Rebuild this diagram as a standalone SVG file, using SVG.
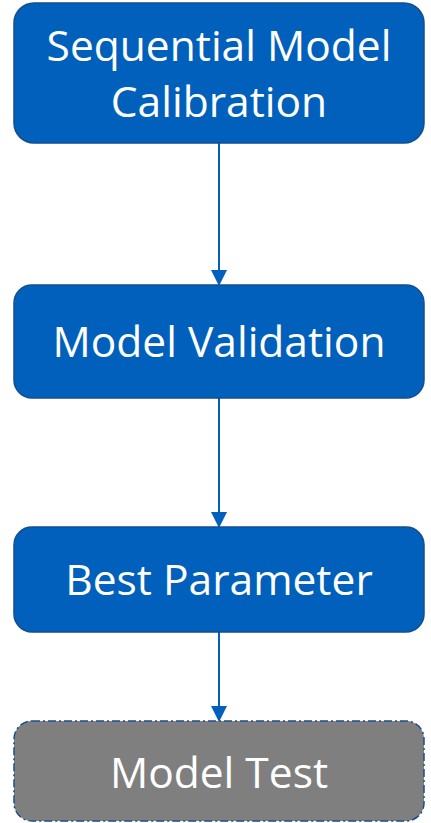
<svg xmlns="http://www.w3.org/2000/svg" width="431" height="823" viewBox="0 0 431 823">
<style>
.box{fill:#0060BB;stroke:#134E8F;stroke-width:1.5}
.test{fill:#7F7F7F;stroke:#1B4D8C;stroke-width:1.5;stroke-dasharray:8 3 2 3}
.lbl{font-family:"Open Sans","Noto Sans",sans-serif;font-size:42.5px;fill:#FFFFFF;text-anchor:middle}
.conn{stroke:#0060BB;stroke-width:2;fill:none}
</style>
<defs>
<marker id="ah" markerWidth="8" markerHeight="8" refX="7" refY="4" orient="auto" markerUnits="strokeWidth">
<path d="M0,0 L8,4 L0,8 z" fill="#0060BB"/>
</marker>
</defs>
<g id="connectors">
<line class="conn" x1="219" y1="143" x2="219" y2="284" marker-end="url(#ah)"/>
<line class="conn" x1="219" y1="398" x2="219" y2="526" marker-end="url(#ah)"/>
<line class="conn" x1="219" y1="632" x2="219" y2="720" marker-end="url(#ah)"/>
</g>
<g id="n1">
<rect class="box" x="14" y="3" width="410" height="140" rx="20"/>
<text class="lbl" x="219" y="61">Sequential Model</text>
<text class="lbl" x="219" y="117">Calibration</text>
</g>
<g id="n2">
<rect class="box" x="14" y="285" width="410" height="113" rx="18"/>
<text class="lbl" x="219" y="357">Model Validation</text>
</g>
<g id="n3">
<rect class="box" x="14" y="527" width="410" height="105" rx="18"/>
<text class="lbl" x="219" y="595">Best Parameter</text>
</g>
<g id="n4">
<rect class="test" x="14" y="721" width="410" height="100" rx="18"/>
<text class="lbl" x="219" y="788">Model Test</text>
</g>
</svg>
